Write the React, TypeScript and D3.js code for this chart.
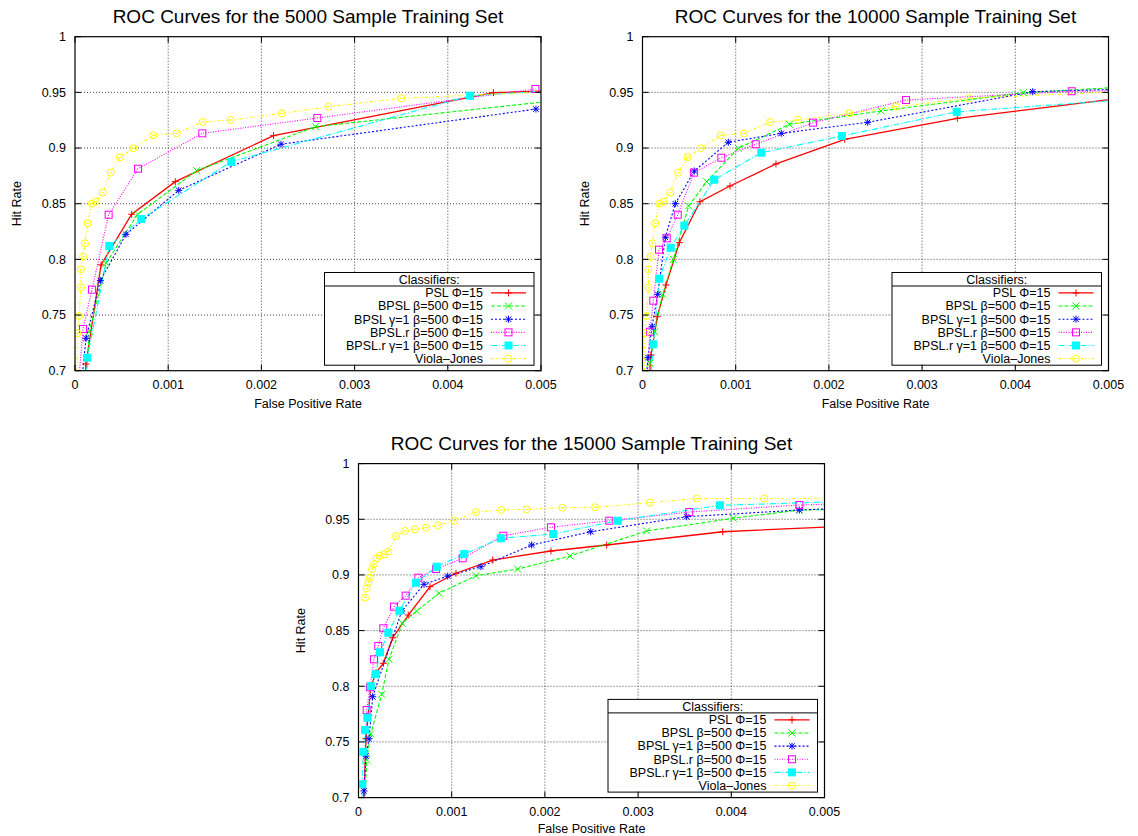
import React from "react";
import * as d3 from "d3";

type Pt = [number, number];

// ---------- Data (False Positive Rate, Hit Rate) ----------
// Viola-Jones baseline (same in 5000 and 10000 panels)
const violaJones: Pt[] = [
  [0.00002, 0.68], [0.000025, 0.7336], [0.000043, 0.7491], [0.000064, 0.7749], [0.000064, 0.7911],
  [0.000086, 0.8024], [0.000107, 0.8144], [0.000136, 0.8324], [0.000179, 0.85], [0.000222, 0.8518],
  [0.000297, 0.8599], [0.000383, 0.8779], [0.000483, 0.8917], [0.000626, 0.8998], [0.00084, 0.9114],
  [0.00109, 0.9132], [0.00137, 0.9234], [0.00167, 0.9252], [0.00222, 0.9312], [0.00272, 0.9371],
  [0.0035, 0.9447], [0.0052, 0.951],
];

// 5000 sample set
const psl5k: Pt[] = [
  [0.0001, 0.68], [0.000118, 0.706], [0.000279, 0.795], [0.000608, 0.8405], [0.001076, 0.8698],
  [0.00213, 0.9111], [0.00449, 0.9497], [0.0052, 0.9515],
];
const bpsl5k: Pt[] = [
  [0.00011, 0.68], [0.000154, 0.735], [0.000333, 0.7965], [0.000672, 0.8405], [0.001305, 0.8797],
  [0.00258, 0.9192], [0.0052, 0.943],
];
const bpslG5k: Pt[] = [
  [0.00006, 0.68], [0.000118, 0.7291], [0.000272, 0.7809], [0.000547, 0.8225], [0.001113, 0.862],
  [0.00221, 0.9034], [0.004946, 0.935],
];
const bpslR5k: Pt[] = [
  [0.00003, 0.68], [0.000086, 0.7375], [0.000182, 0.7728], [0.000361, 0.8401], [0.000676, 0.8814],
  [0.001366, 0.9132], [0.0026, 0.927], [0.00494, 0.953],
];
const bpslRG5k: Pt[] = [
  [0.0001, 0.68], [0.000132, 0.7117], [0.000368, 0.812], [0.000712, 0.8363], [0.001677, 0.8877],
  [0.00424, 0.947], [0.0052, 0.952],
];

// 10000 sample set
const psl10k: Pt[] = [
  [0.00006, 0.68], [0.000091, 0.7141], [0.000159, 0.7485], [0.000252, 0.777], [0.000395, 0.815],
  [0.000617, 0.8518], [0.000939, 0.8659], [0.001432, 0.8857], [0.00217, 0.9078], [0.003378, 0.9267],
  [0.0052, 0.9455],
];
const bpsl10k: Pt[] = [
  [0.00005, 0.68], [0.00008, 0.7067], [0.00013, 0.735], [0.000216, 0.7686], [0.000331, 0.8],
  [0.000495, 0.848], [0.000689, 0.8698], [0.001028, 0.8998], [0.001575, 0.9213], [0.002559, 0.9333],
  [0.004086, 0.9497], [0.0052, 0.955],
];
const bpslG10k: Pt[] = [
  [0.00003, 0.68], [0.000059, 0.7117], [0.000102, 0.7395], [0.000163, 0.7686], [0.000245, 0.8198],
  [0.000352, 0.85], [0.000556, 0.8794], [0.000921, 0.9052], [0.001489, 0.9132], [0.002416, 0.9231],
  [0.004187, 0.9506], [0.0052, 0.953],
];
const bpslR10k: Pt[] = [
  [0.00004, 0.68], [0.00008, 0.735], [0.000116, 0.7629], [0.000177, 0.8087], [0.00026, 0.8189],
  [0.000378, 0.8401], [0.000553, 0.8779], [0.000846, 0.8913], [0.001215, 0.9034], [0.00183, 0.9228],
  [0.002827, 0.9431], [0.004605, 0.951], [0.0052, 0.9515],
];
const bpslRG10k: Pt[] = [
  [0.00008, 0.68], [0.000116, 0.7237], [0.00018, 0.7827], [0.000302, 0.8105], [0.000449, 0.8303],
  [0.00077, 0.8716], [0.001275, 0.8958], [0.00214, 0.9108], [0.003371, 0.9326], [0.0052, 0.9435],
];

// 15000 sample set
const violaJones15k: Pt[] = [
  [0.00007, 0.8796], [0.000088, 0.888], [0.000105, 0.8934], [0.000123, 0.8975], [0.000145, 0.9053],
  [0.000166, 0.9096], [0.000195, 0.915], [0.000231, 0.9173], [0.000277, 0.9185], [0.00032, 0.9209],
  [0.000402, 0.935], [0.000499, 0.9395], [0.000606, 0.941], [0.000724, 0.9424], [0.000856, 0.9446],
  [0.001028, 0.9487], [0.001261, 0.9565], [0.001529, 0.9583], [0.001805, 0.9589], [0.002187, 0.9604],
  [0.002538, 0.9608], [0.003128, 0.9649], [0.003629, 0.9685], [0.004354, 0.9685], [0.0052, 0.969],
];
const psl15k: Pt[] = [
  [0.00005, 0.68], [0.00008, 0.7529], [0.000131, 0.7991], [0.000188, 0.8122], [0.000266, 0.8206],
  [0.000367, 0.8436], [0.000534, 0.864], [0.000767, 0.8894], [0.001046, 0.9015], [0.00144, 0.9134],
  [0.002065, 0.9215], [0.002663, 0.9269], [0.003908, 0.9388], [0.0052, 0.9437],
];
const bpsl15k: Pt[] = [
  [0.00006, 0.68], [0.000088, 0.7338], [0.000131, 0.7571], [0.000249, 0.7928], [0.000327, 0.8242],
  [0.00047, 0.8566], [0.000624, 0.8676], [0.000864, 0.8835], [0.001261, 0.8993], [0.001708, 0.9053],
  [0.002269, 0.917], [0.003092, 0.9395], [0.004021, 0.9509], [0.00473, 0.9583], [0.0052, 0.959],
];
const bpslG15k: Pt[] = [
  [0.00005, 0.68], [0.000059, 0.706], [0.00008, 0.7374], [0.000113, 0.7529], [0.000152, 0.7906],
  [0.000464, 0.8676], [0.000703, 0.8916], [0.000957, 0.899], [0.001314, 0.9074], [0.001858, 0.9269],
  [0.002491, 0.9388], [0.003521, 0.9523], [0.00473, 0.9583], [0.0052, 0.96],
];
const bpslR15k: Pt[] = [
  [0.00005, 0.68], [0.000088, 0.7787], [0.000123, 0.7991], [0.000166, 0.8242], [0.000212, 0.8362],
  [0.000266, 0.8521], [0.000381, 0.8715], [0.000506, 0.8814], [0.000642, 0.8975], [0.000832, 0.9053],
  [0.001118, 0.915], [0.001554, 0.9352], [0.002065, 0.9428], [0.002691, 0.9487], [0.003549, 0.9565],
  [0.00473, 0.9628], [0.0052, 0.964],
];
const bpslRG15k: Pt[] = [
  [0.00003, 0.68], [0.000041, 0.712], [0.000052, 0.7412], [0.00007, 0.7607], [0.000095, 0.7718],
  [0.000131, 0.8003], [0.000185, 0.8108], [0.000231, 0.8305], [0.00032, 0.8481], [0.000438, 0.8679],
  [0.000617, 0.893], [0.000839, 0.9074], [0.001135, 0.9188], [0.001526, 0.9329], [0.00209, 0.9368],
  [0.002781, 0.9487], [0.003879, 0.9625], [0.0052, 0.966],
];

const seriesNames = [
  "PSL Φ=15",
  "BPSL β=500 Φ=15",
  "BPSL γ=1 β=500 Φ=15",
  "BPSL.r β=500 Φ=15",
  "BPSL.r γ=1 β=500 Φ=15",
  "Viola\u2013Jones",
];
const seriesColors = ["#ff0000", "#00ff00", "#0000ff", "#ff00ff", "#00ffff", "#ffff00"];
const seriesDash = ["none", "4,2", "2,2", "1,1.5", "6,2,1,2", "3,2,1,2,1,2"];
const seriesMarkers = ["plus", "cross", "star", "openSquare", "filledSquare", "openCircle"];

const xTicks = [0, 0.001, 0.002, 0.003, 0.004, 0.005];
const yTicks = [0.7, 0.75, 0.8, 0.85, 0.9, 0.95, 1];

const panels = [
  {
    id: "p5k",
    title: "ROC Curves for the 5000 Sample Training Set",
    data: [psl5k, bpsl5k, bpslG5k, bpslR5k, bpslRG5k, violaJones],
    box: { left: 75, right: 541, top: 36.7, bottom: 370.7, xLabelGap: 37.5 },
  },
  {
    id: "p10k",
    title: "ROC Curves for the 10000 Sample Training Set",
    data: [psl10k, bpsl10k, bpslG10k, bpslR10k, bpslRG10k, violaJones],
    box: { left: 642.5, right: 1108.5, top: 36.7, bottom: 370.7, xLabelGap: 37.5 },
  },
  {
    id: "p15k",
    title: "ROC Curves for the 15000 Sample Training Set",
    data: [psl15k, bpsl15k, bpslG15k, bpslR15k, bpslRG15k, violaJones15k],
    box: { left: 358.5, right: 824.5, top: 463.6, bottom: 797.6, xLabelGap: 35 },
  },
];

const FONT = "'Liberation Sans', Arial, Helvetica, sans-serif";
const FS = 12.5;

function Marker({ type, x, y, color }: { type: string; x: number; y: number; color: string }) {
  const s = 3.5;
  const sw = 1;
  switch (type) {
    case "plus":
      return (
        <g stroke={color} strokeWidth={sw}>
          <line x1={x - s} y1={y} x2={x + s} y2={y} />
          <line x1={x} y1={y - s} x2={x} y2={y + s} />
        </g>
      );
    case "cross":
      return (
        <g stroke={color} strokeWidth={sw}>
          <line x1={x - s} y1={y - s} x2={x + s} y2={y + s} />
          <line x1={x - s} y1={y + s} x2={x + s} y2={y - s} />
        </g>
      );
    case "star":
      return (
        <g stroke={color} strokeWidth={sw}>
          <line x1={x - s} y1={y} x2={x + s} y2={y} />
          <line x1={x} y1={y - s} x2={x} y2={y + s} />
          <line x1={x - s * 0.8} y1={y - s * 0.8} x2={x + s * 0.8} y2={y + s * 0.8} />
          <line x1={x - s * 0.8} y1={y + s * 0.8} x2={x + s * 0.8} y2={y - s * 0.8} />
        </g>
      );
    case "openSquare":
      return <rect x={x - s} y={y - s} width={2 * s} height={2 * s} fill="none" stroke={color} strokeWidth={sw} />;
    case "filledSquare":
      return <rect x={x - s} y={y - s} width={2 * s} height={2 * s} fill={color} stroke={color} strokeWidth={sw} />;
    case "openCircle":
      return (
        <g stroke={color} strokeWidth={sw} fill="none">
          <circle cx={x} cy={y} r={s} />
          <line x1={x - 1.5} y1={y} x2={x + 1.5} y2={y} />
        </g>
      );
    default:
      return null;
  }
}

function Panel({ panel }: { panel: (typeof panels)[number] }) {
  const { left, right, top, bottom, xLabelGap } = panel.box;
  const x = d3.scaleLinear().domain([0, 0.005]).range([left, right]);
  const y = d3.scaleLinear().domain([0.7, 1]).range([bottom, top]);
  const line = d3
    .line<Pt>()
    .x((d) => x(d[0]))
    .y((d) => y(d[1]));
  const tickLen = 6;
  const lgRight = right - 7;
  const lgLeft = lgRight - 209.5;
  const lgBottom = bottom - 5.5;
  const lgTop = lgBottom - 92.7;
  const rowH = 13.15;
  const clipId = `clip-${panel.id}`;

  return (
    <g>
      <defs>
        <clipPath id={clipId}>
          <rect x={left} y={top} width={right - left} height={bottom - top} />
        </clipPath>
      </defs>
      {/* title */}
      <text
        x={(left + right) / 2}
        y={top - 13.5}
        textAnchor="middle"
        fontSize={19}
        fontFamily={FONT}
        fill="#000"
      >
        {panel.title}
      </text>
      {/* grid */}
      <g stroke="#333" strokeWidth={0.9} strokeDasharray="1,2">
        {xTicks.slice(1, -1).map((t) => (
          <line key={`gx${t}`} x1={x(t)} x2={x(t)} y1={top} y2={bottom} />
        ))}
        {yTicks.slice(1, -1).map((t) => (
          <line key={`gy${t}`} x1={left} x2={right} y1={y(t)} y2={y(t)} />
        ))}
      </g>
      {/* series */}
      <g clipPath={`url(#${clipId})`}>
        {panel.data.map((pts, i) => (
          <path
            key={`l${i}`}
            d={line(pts) || ""}
            fill="none"
            stroke={seriesColors[i]}
            strokeWidth={i === 0 ? 1.3 : 1.1}
            strokeDasharray={seriesDash[i]}
          />
        ))}
        {panel.data.map((pts, i) => (
          <g key={`m${i}`}>
            {pts.map((p, j) => (
              <Marker key={j} type={seriesMarkers[i]} x={x(p[0])} y={y(p[1])} color={seriesColors[i]} />
            ))}
          </g>
        ))}
      </g>
      {/* legend */}
      <g>
        <rect x={lgLeft} y={lgTop} width={lgRight - lgLeft} height={lgBottom - lgTop} fill="#fff" stroke="#000" strokeWidth={1} />
        <line x1={lgLeft} x2={lgRight} y1={lgTop + 13.5} y2={lgTop + 13.5} stroke="#000" strokeWidth={1} />
        <text
          x={(lgLeft + lgRight) / 2}
          y={lgTop + 7}
          dy="0.35em"
          textAnchor="middle"
          fontSize={FS}
          fontFamily={FONT}
          fill="#000"
        >
          Classifiers:
        </text>
        {seriesNames.map((name, i) => {
          const cy = lgTop + 20.4 + i * rowH;
          const sx1 = lgRight - 43;
          const sx2 = lgRight - 8;
          return (
            <g key={`lg${i}`}>
              <text x={lgRight - 51} y={cy} dy="0.35em" textAnchor="end" fontSize={FS} fontFamily={FONT} fill="#000">
                {name}
              </text>
              <line
                x1={sx1}
                x2={sx2}
                y1={cy}
                y2={cy}
                stroke={seriesColors[i]}
                strokeWidth={i === 0 ? 1.3 : 1.1}
                strokeDasharray={seriesDash[i]}
              />
              <Marker type={seriesMarkers[i]} x={(sx1 + sx2) / 2} y={cy} color={seriesColors[i]} />
            </g>
          );
        })}
      </g>
      {/* ticks (mirrored, inward) */}
      <g stroke="#000" strokeWidth={1}>
        {xTicks.map((t) => (
          <g key={`tx${t}`}>
            <line x1={x(t)} x2={x(t)} y1={bottom} y2={bottom - tickLen} />
            <line x1={x(t)} x2={x(t)} y1={top} y2={top + tickLen} />
          </g>
        ))}
        {yTicks.map((t) => (
          <g key={`ty${t}`}>
            <line x1={left} x2={left + tickLen} y1={y(t)} y2={y(t)} />
            <line x1={right} x2={right - tickLen} y1={y(t)} y2={y(t)} />
          </g>
        ))}
      </g>
      {/* border */}
      <rect x={left} y={top} width={right - left} height={bottom - top} fill="none" stroke="#000" strokeWidth={1.2} />
      {/* tick labels */}
      <g fontSize={FS} fontFamily={FONT} fill="#000">
        {xTicks.map((t) => (
          <text key={`lx${t}`} x={x(t)} y={bottom + 18.5} textAnchor="middle">
            {String(t)}
          </text>
        ))}
        {yTicks.map((t) => (
          <text key={`ly${t}`} x={left - 9} y={y(t)} dy="0.35em" textAnchor="end">
            {String(t)}
          </text>
        ))}
      </g>
      {/* axis labels */}
      <text x={(left + right) / 2} y={bottom + xLabelGap} textAnchor="middle" fontSize={FS} fontFamily={FONT} fill="#000">
        False Positive Rate
      </text>
      <text
        transform={`translate(${left - 58},${(top + bottom) / 2}) rotate(-90)`}
        textAnchor="middle"
        dy="0.35em"
        fontSize={FS}
        fontFamily={FONT}
        fill="#000"
      >
        Hit Rate
      </text>
    </g>
  );
}

export default function App() {
  return (
    <svg
      width={1138}
      height={836}
      viewBox="0 0 1138 836"
      style={{ position: "absolute", left: 0, top: 0, background: "#fff" }}
    >
      <rect x={0} y={0} width={1138} height={836} fill="#fff" />
      {panels.map((p) => (
        <Panel key={p.id} panel={p} />
      ))}
    </svg>
  );
}
